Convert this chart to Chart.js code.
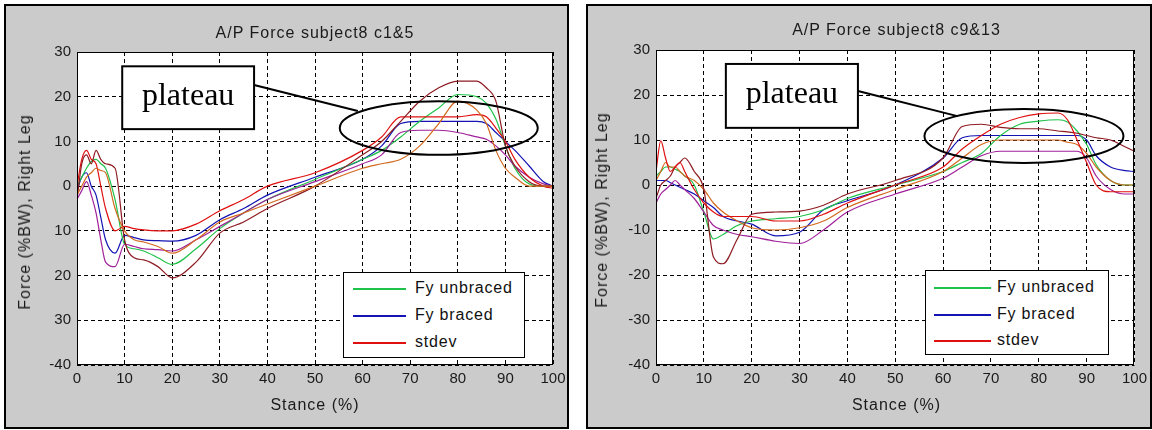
<!DOCTYPE html>
<html>
<head>
<meta charset="utf-8">
<script src="https://cdn.jsdelivr.net/npm/chart.js@4.4.1/dist/chart.umd.min.js"></script>
<style>
body { margin: 0; width: 1152px; height: 430px; overflow: hidden; position: relative; background: #fff; font-family: "Liberation Sans", Arial, sans-serif; }
.panel { position: absolute; top: 4px; height: 421px; border: 2px solid #000; background: #cbcbcb; }
canvas { position: absolute; top: 0; }
.txt { position: absolute; font-size: 16px; line-height: 20px; letter-spacing: 1px; color: #1a1a1a; white-space: nowrap; text-align: center; }
.ylab { transform: translate(-50%, -50%) rotate(-90deg); }
.legend { position: absolute; background: #fff; border: 1px solid #000; box-sizing: border-box; }
.legend .row { position: absolute; left: 0; right: 0; height: 20px; }
.legend .swatch { position: absolute; top: 10px; height: 2px; }
.legend .lab { position: absolute; top: 0; font-size: 16px; line-height: 20px; letter-spacing: 0.8px; color: #111; }
</style>
</head>
<body>
<div class="panel" style="left:4px;width:561px;"></div>
<div class="panel" style="left:586px;width:562px;"></div>
<canvas id="chartLeft" width="576" height="430" style="left:0"></canvas>
<canvas id="chartRight" width="576" height="430" style="left:576px"></canvas>

<div class="txt" style="left:77px;width:476px;top:23px;">A/P Force subject8 c1&amp;5</div>
<div class="txt" style="left:656px;width:481px;top:20px;">A/P Force subject8 c9&amp;13</div>
<div class="txt" style="left:77px;width:476px;top:395px;">Stance (%)</div>
<div class="txt" style="left:656px;width:481px;top:395px;">Stance (%)</div>
<div class="txt ylab" style="left:25px;top:212px;">Force (%BW), Right Leg</div>
<div class="txt ylab" style="left:602px;top:210px;">Force (%BW), Right Leg</div>

<div class="legend" id="legendLeft" style="left:343px;top:272px;width:182px;height:86px;"></div>
<div class="legend" id="legendRight" style="left:925px;top:270px;width:184px;height:85px;"></div>

<script>
// stance positions (% of stance) where the curves were read
const stance = [0, 1, 2, 3, 4, 5, 6, 8, 10, 12, 14, 17, 20, 25, 30, 35, 40, 50, 60, 64, 68, 72, 76, 80, 84, 86, 88, 90, 92, 95, 98, 100];

const leftYTickLabels = ['-40', '30', '20', '10', '0', '10', '20', '30'];
const rightYTickLabels = ['-40', '-30', '-20', '-10', '0', '10', '20', '30'];

// c1&5
const c1Unbraced   = [0, 2, 4, 5.5, 6, 5, 4, -3, -13, -14, -14.5, -16, -17.5, -14, -9.5, -6, -3, 1.5, 6, 8, 11, 14.5, 17.5, 20.5, 20, 18.5, 15, 9, 4, 0.5, 0, 0];
const c1UnbracedHi = [-2, 0, 2, 3, 4, 3.5, 3, -5, -10, -12, -12.5, -13.5, -15, -12, -8, -6, -4, 0, 4, 5, 6, 9, 14, 19, 17, 14, 8, 4, 2, 0, 0, 0];
const c1UnbracedLo = [-3, 5, 7, 5, 8, 6, 5, 4, -12, -16, -16.5, -18, -20.5, -17, -10.5, -8, -5, 0, 7, 10, 14.5, 19, 22, 23.5, 23.5, 22, 19, 9, 4.5, 1, 0, 0];
const c1Braced     = [-1, 2, 3, 0, -2, -7, -12, -15, -11, -11.5, -12, -12.2, -12.3, -11, -7.5, -5, -2, 2, 6, 9, 14, 14.5, 14.5, 14.5, 14.5, 14, 12, 10, 8, 4.5, 1, 0];
const c1BracedHi   = [0, 6, 8, 6, 5, 0, -5, -10, -9, -9.5, -9.8, -10, -10, -8.5, -5.5, -3, 0, 3, 8, 11, 15.5, 15.5, 15.5, 15.5, 16, 15.5, 13, 10, 6, 2, 0, -0.5];
const c1BracedLo   = [-3, -1, 1, -2, -6, -12, -17, -18, -13, -13.5, -14, -14.2, -14.5, -12, -9, -6, -3, 1, 5, 7, 12, 12.5, 12.5, 12, 11, 10.5, 9, 7, 4.5, 2, 0.5, 0];

// c9&13
const c9Unbraced   = [2, 3, 4, 4, 3.5, 3, 2, 0, -6, -12, -11, -9, -8, -7.5, -7, -5.5, -3, 0, 3, 5, 7, 11, 13.5, 14.2, 14.5, 14, 12, 9, 4.5, 1, 0, 0];
const c9UnbracedHi = [3, 9.8, 6, 3, 4, 5, 3, -1, -4, -6, -7, -7, -7, -8, -8, -6.5, -4, 0, 4, 8, 11, 13.5, 15, 15.8, 16, 14.5, 10, 5, 0, -1.5, -1.5, -1.5];
const c9UnbracedLo = [-3, 0, 1, 2, 4, 5, 6, 3, -1, -16, -17.5, -12, -6.5, -6, -5.8, -4.5, -2, 1, 6, 13, 13.5, 12.8, 12.5, 12.5, 12, 11.8, 11.5, 11, 10.5, 10, 8.5, 7.5];
const c9Braced     = [1, 1, 1, 0.5, 0, -0.5, -1, -2, -3.5, -5, -7, -8, -8.7, -11.3, -10.5, -5.5, -3.5, 0, 6, 10.5, 11, 11, 11, 11, 11, 11, 11, 10, 6.5, 4, 3.2, 3];
const c9BracedHi   = [1, 3, 5, 4, 4, 3, 2, 1, -1, -4, -6, -8, -9.5, -10, -9.5, -8, -5, -1, 3, 6, 9, 10, 10, 10, 10, 9.5, 9, 7, 4, 1, 0, 0];
const c9BracedLo   = [-4, -2, -1, 0, 1, 0, -1, -3, -6, -9, -10, -11, -11.5, -12.5, -13, -10, -6, -2, 1.5, 4, 6.5, 7.5, 7.5, 7.5, 7.5, 7.5, 7.5, 6, 2, -1, -2, -2];

const GREEN = '#1fc24a', BLUE = '#1414b4', RED = '#e01010';
const DARKRED = '#8e1b22', ORANGE = '#d2691e', PURPLE = '#a0209a';

function pts(values) {
	return values.map((v, i) => ({ x: stance[i], y: v }));
}

function line(label, values, color) {
	return {
		label: label,
		data: pts(values),
		borderColor: color,
		borderWidth: 1.2,
		pointRadius: 0,
		cubicInterpolationMode: 'monotone',
		fill: false
	};
}

// white plot area, axes box and the "plateau" annotation
const framePlugin = {
	id: 'frame',
	beforeDraw(chart) {
		const { ctx, chartArea: a } = chart;
		ctx.save();
		ctx.fillStyle = '#fff';
		ctx.fillRect(a.left, a.top, a.width, a.height);
		ctx.restore();
	},
	afterDraw(chart, args, opts) {
		const { ctx, chartArea: a } = chart;
		const xs = chart.scales.x, ys = chart.scales.y;
		const n = opts.note;
		ctx.save();
		ctx.strokeStyle = '#000';
		ctx.lineWidth = 1;
		ctx.strokeRect(Math.round(a.left) + 0.5, Math.round(a.top) + 0.5, Math.round(a.width) - 1, Math.round(a.height) - 1);

		ctx.lineWidth = 2;
		// ellipse
		const cx = xs.getPixelForValue(n.ellipse[0]);
		const cy = ys.getPixelForValue(n.ellipse[1]);
		const rx = xs.getPixelForValue(n.ellipse[0] + n.ellipse[2]) - cx;
		const ry = cy - ys.getPixelForValue(n.ellipse[1] + n.ellipse[3]);
		ctx.beginPath();
		ctx.ellipse(cx, cy, rx, ry, 0, 0, Math.PI * 2);
		ctx.stroke();

		// box
		const bx0 = xs.getPixelForValue(n.box[0]), bx1 = xs.getPixelForValue(n.box[1]);
		const by0 = ys.getPixelForValue(n.box[2]), by1 = ys.getPixelForValue(n.box[3]);
		// connector
		ctx.beginPath();
		ctx.moveTo(bx1, ys.getPixelForValue(n.from));
		ctx.lineTo(xs.getPixelForValue(n.to[0]), ys.getPixelForValue(n.to[1]));
		ctx.stroke();

		ctx.fillStyle = '#fff';
		ctx.fillRect(bx0, by0, bx1 - bx0, by1 - by0);
		ctx.strokeRect(bx0, by0, bx1 - bx0, by1 - by0);
		ctx.fillStyle = '#000';
		ctx.font = '32px "Liberation Serif", "Times New Roman", serif';
		ctx.textAlign = 'center';
		ctx.textBaseline = 'middle';
		ctx.fillText(n.text, (bx0 + bx1) / 2, (by0 + by1) / 2 - 1);
		ctx.restore();
	}
};

function makeChart(id, datasets, yLabels, padding, note) {
	const tickFont = { family: '"Liberation Sans", Arial, sans-serif', size: 15 };
	return new Chart(document.getElementById(id), {
		type: 'line',
		data: { datasets: datasets },
		plugins: [framePlugin],
		options: {
			responsive: false,
			animation: false,
			layout: { padding: padding },
			plugins: {
				legend: { display: false },
				tooltip: { enabled: false },
				frame: { note: note }
			},
			scales: {
				x: {
					type: 'linear',
					min: 0,
					max: 100,
					ticks: { stepSize: 10, color: '#1a1a1a', font: tickFont, padding: 5, maxRotation: 0, autoSkip: false },
					grid: { color: '#000', lineWidth: 1, drawTicks: false },
					border: { display: false, dash: [4, 3] },
					afterFit(scale) { scale.height = 30; }
				},
				y: {
					min: -40,
					max: 30,
					ticks: {
						stepSize: 10,
						color: '#1a1a1a',
						font: tickFont,
						padding: 6,
						callback: (value, index) => yLabels[index]
					},
					grid: { color: '#000', lineWidth: 1, drawTicks: false },
					border: { display: false, dash: [4, 3] },
					afterFit(scale) { scale.width = 40; }
				}
			}
		}
	});
}

makeChart('chartLeft', [
	line('stdev', c1UnbracedHi, ORANGE),
	line('stdev', c1UnbracedLo, DARKRED),
	line('stdev', c1BracedHi, RED),
	line('stdev', c1BracedLo, PURPLE),
	line('Fy unbraced', c1Unbraced, GREEN),
	line('Fy braced', c1Braced, BLUE)
], leftYTickLabels, { left: 37, top: 52, right: 23, bottom: 35 }, {
	text: 'plateau', box: [9.5, 37.2, 26.8, 12.75], from: 22.6, to: [59, 16.8], ellipse: [76, 13, 20.8, 6]
});

makeChart('chartRight', [
	line('stdev', c9UnbracedHi, RED),
	line('stdev', c9UnbracedLo, DARKRED),
	line('stdev', c9BracedHi, ORANGE),
	line('stdev', c9BracedLo, PURPLE),
	line('Fy unbraced', c9Unbraced, GREEN),
	line('Fy braced', c9Braced, BLUE)
], rightYTickLabels, { left: 40, top: 50, right: 15, bottom: 35 }, {
	text: 'plateau', box: [14.6, 42.2, 26.9, 12.7], from: 20.9, to: [63, 15.3], ellipse: [76.9, 10.9, 20.8, 6]
});

// legends
const legendItems = [
	{ label: 'Fy unbraced', color: GREEN },
	{ label: 'Fy braced', color: BLUE },
	{ label: 'stdev', color: RED }
];

function buildLegend(id, rowTops, swatchLeft, swatchWidth, textLeft) {
	const box = document.getElementById(id);
	legendItems.forEach((item, i) => {
		const row = document.createElement('div');
		row.className = 'row';
		row.style.top = rowTops[i] + 'px';
		const sw = document.createElement('div');
		sw.className = 'swatch';
		sw.style.left = swatchLeft + 'px';
		sw.style.width = swatchWidth + 'px';
		sw.style.background = item.color;
		const lab = document.createElement('div');
		lab.className = 'lab';
		lab.style.left = textLeft + 'px';
		lab.textContent = item.label;
		row.appendChild(sw);
		row.appendChild(lab);
		box.appendChild(row);
	});
}

buildLegend('legendLeft', [5, 32, 59], 9, 53, 71);
buildLegend('legendRight', [6, 33, 59], 8, 57, 71);
</script>
</body>
</html>
